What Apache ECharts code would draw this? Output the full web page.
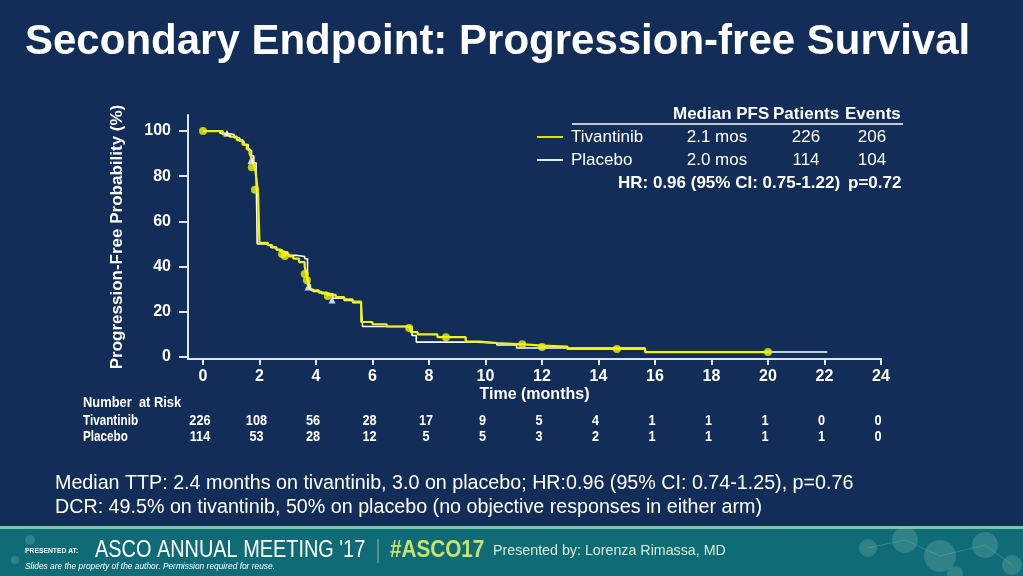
<!DOCTYPE html>
<html><head><meta charset="utf-8">
<script src="https://cdn.jsdelivr.net/npm/echarts@6/dist/echarts.min.js"></script>
<style>html,body{margin:0;padding:0;background:#122d57}#c{width:1023px;height:576px}</style>
</head><body><div id="c"></div>
<script>
// ---- data ----
const tivantinibCurve = [[0,100],[0.5,100],[0.7,98.5],[0.95,97.5],[1.2,96],[1.4,94],[1.55,92],[1.65,90],[1.72,88],[1.78,86],[1.85,83],[1.9,78],[1.95,72],[2.0,50.5],[2.3,49.5],[2.45,48.5],[2.6,47.5],[2.75,46.5],[2.9,45.5],[3.05,44.5],[3.2,43.5],[3.4,42],[3.6,40],[3.65,37],[3.72,34],[3.78,31],[3.85,29.5],[4.1,28.5],[4.4,27.5],[4.7,26.5],[5.0,25.5],[5.3,24.5],[5.6,15.5],[6.0,14.5],[6.5,13.5],[7.2,12.8],[7.35,11],[7.6,10],[8.3,8.8],[9.3,6.8],[9.8,6.2],[10.4,5.5],[11.5,5.0],[12.0,4.6],[12.9,3.6],[15.65,2.2],[20.0,2.2]];
const placeboCurve = [[0,100],[0.4,100],[0.6,99],[0.85,98.5],[1.1,97],[1.3,95.5],[1.45,94],[1.6,91.5],[1.72,89],[1.8,86],[1.88,82],[1.92,50],[2.2,49.5],[2.4,48.5],[2.6,47.5],[2.8,46.5],[3.0,45],[3.3,44.5],[3.6,43.5],[3.7,32],[3.8,30],[3.9,29],[4.2,28],[4.6,26],[5.0,25],[5.3,24],[5.6,23],[5.65,13.5],[7.3,13],[7.4,9.5],[7.55,6.6],[9.7,6.2],[10.4,5.3],[11.1,4.0],[15.65,2.2],[22.1,2.2]];
const tivantinibCensored = [[0,100],[1.73,84],[1.84,74],[2.8,45.6],[2.9,44.7],[3.6,36.7],[3.68,34],[4.42,27],[7.3,12.8],[8.6,8.8],[11.3,5.7],[12.0,4.4],[14.65,3.5],[20.0,2.2]];
const placeboCensored = [[0.85,99],[1.7,87],[3.72,31],[4.57,25.2]];
const xTicks = [0,2,4,6,8,10,12,14,16,18,20,22,24];
const yTicks = [0,20,40,60,80,100];
const riskTimes = [0,2,4,6,8,10,12,14,16,18,20,22,24];
const riskTivantinib = [226,108,56,28,17,9,5,4,1,1,1,0,0];
const riskPlacebo = [114,53,28,12,5,5,3,2,1,1,1,1,0];
const armNames = ['Tivantinib','Placebo'];
const medianPFS = ['2.1 mos','2.0 mos'];
const patients = ['226','114'];
const events = ['206','104'];

const YEL = '#f2f20c', WHT = '#ffffff', AX = '#dde5ee';
const FF = '"Liberation Sans", Arial, sans-serif';

const chart = echarts.init(document.getElementById('c'), null, {renderer:'canvas'});
const option = {
  backgroundColor: '#122d57',
  animation: false,
  grid: {left:188, right:142, top:115, bottom:217},
  xAxis: {
    type:'value', min:-0.53, max:24,
    axisLine:{show:true, onZero:false, lineStyle:{color:AX, width:2}},
    axisTick:{show:true, customValues:xTicks, length:6, lineStyle:{color:AX, width:2}},
    axisLabel:{customValues:xTicks, color:'#ffffff', fontWeight:'bold', fontSize:16, fontFamily:FF, margin:10},
    splitLine:{show:false},
    name:'Time (months)', nameLocation:'middle', nameGap:28,
    nameTextStyle:{color:'#ffffff', fontWeight:'bold', fontSize:16, fontFamily:FF}
  },
  yAxis: {
    type:'value', min:-0.88, max:107.1,
    axisLine:{show:true, onZero:false, lineStyle:{color:AX, width:2}},
    axisTick:{show:true, customValues:yTicks, length:9, lineStyle:{color:AX, width:2}},
    axisLabel:{customValues:yTicks, color:'#ffffff', fontWeight:'bold', fontSize:16, fontFamily:FF, margin:17},
    splitLine:{show:false},
    name:'Progression-Free Probability (%)', nameLocation:'middle', nameGap:62, nameRotate:90,
    nameTextStyle:{color:'#ffffff', fontWeight:'bold', fontSize:17, fontFamily:FF}
  },
  series: [
    {type:'line', step:'end', data:placeboCurve, showSymbol:false, symbol:'none', lineStyle:{color:WHT, width:1.6}, z:2},
    {type:'line', step:'end', data:tivantinibCurve, showSymbol:false, symbol:'none', lineStyle:{color:YEL, width:2.2}, z:3},
    {type:'scatter', data:placeboCensored, symbol:'triangle', symbolSize:7, itemStyle:{color:WHT}, z:4},
    {type:'scatter', data:tivantinibCensored, symbol:'circle', symbolSize:8, itemStyle:{color:YEL}, z:5}
  ]
};
chart.setOption(option);

// ---- graphics ----
const g = [];
function txt(x, y, text, font, fill, opts) {
  const o = {type:'text', x:x, y:y, style:Object.assign({text:text, fill:fill||'#fff', font:font, verticalAlign:'middle'}, (opts&&opts.style)||{}), z:(opts&&opts.z)||5};
  if (opts && opts.scaleX) o.scaleX = opts.scaleX;
  g.push(o);
}
// title
txt(25, 42, 'Secondary Endpoint: Progression-free Survival', 'bold 42px '+FF, '#fff', {scaleX:1.0});
// legend table
const hdrY = 114;
txt(673, hdrY, 'Median PFS', 'bold 17px '+FF);
txt(773, hdrY, 'Patients', 'bold 17px '+FF);
txt(845, hdrY, 'Events', 'bold 17px '+FF);
g.push({type:'line', shape:{x1:572, y1:124, x2:903, y2:124}, style:{stroke:'#fff', lineWidth:1.5}});
const rowY = [137,160];
const rowCol = [YEL, WHT];
for (let i=0;i<2;i++){
  g.push({type:'line', shape:{x1:537, y1:rowY[i], x2:563, y2:rowY[i]}, style:{stroke:rowCol[i], lineWidth:1.8}});
  txt(571, rowY[i], armNames[i], '17px '+FF);
  txt(717, rowY[i], medianPFS[i], '17px '+FF, '#fff', {style:{align:'center'}});
  txt(806, rowY[i], patients[i], '17px '+FF, '#fff', {style:{align:'center'}});
  txt(872, rowY[i], events[i], '17px '+FF, '#fff', {style:{align:'center'}});
}
txt(618, 183, 'HR: 0.96 (95% CI: 0.75-1.22)', 'bold 17px '+FF);
txt(848, 183, 'p=0.72', 'bold 17px '+FF);

// number at risk
txt(83, 403, 'Number  at Risk', 'bold 15px '+FF, '#fff', {scaleX:0.86});
txt(83, 421, armNames[0], 'bold 15px '+FF, '#fff', {scaleX:0.78});
txt(83, 437, armNames[1], 'bold 15px '+FF, '#fff', {scaleX:0.78});
for (let i=0;i<riskTimes.length;i++){
  const px = chart.convertToPixel({xAxisIndex:0}, riskTimes[i]) - 3;
  txt(px, 421, String(riskTivantinib[i]), 'bold 15.5px '+FF, '#fff', {scaleX:0.82, style:{align:'center'}});
  txt(px, 437, String(riskPlacebo[i]), 'bold 15.5px '+FF, '#fff', {scaleX:0.82, style:{align:'center'}});
}
// notes
txt(55, 484, 'Median TTP: 2.4 months on tivantinib, 3.0 on placebo; HR:0.96 (95% CI: 0.74-1.25), p=0.76', '19.7px '+FF);
txt(55, 508, 'DCR: 49.5% on tivantinib, 50% on placebo (no objective responses in either arm)', '19.7px '+FF);

// footer
g.push({type:'rect', shape:{x:0, y:526, width:1023, height:50}, style:{fill:'#0f6c77'}, z:-1});
g.push({type:'rect', shape:{x:0, y:526, width:1023, height:3}, style:{fill:'#7cc2a6'}, z:0});
const circles = [[868,548,9],[905,540,13],[940,556,16],[985,545,13],[1012,565,10],[955,574,8],[30,540,5],[15,560,4]];
circles.forEach(c=>g.push({type:'circle', shape:{cx:c[0], cy:c[1], r:c[2]}, style:{fill:'rgba(160,210,200,0.22)'}, z:0}));
g.push({type:'polyline', shape:{points:[[868,548],[905,540],[940,556],[985,545],[1012,565]]}, style:{stroke:'rgba(160,210,200,0.25)', lineWidth:1, fill:null}, z:0});
txt(25, 551, 'PRESENTED AT:', 'bold 7.5px '+FF, '#fff', {scaleX:0.9});
txt(95, 551, "ASCO ANNUAL MEETING '17", '23px '+FF, '#fff', {scaleX:0.865});
g.push({type:'line', shape:{x1:378, y1:539, x2:378, y2:563}, style:{stroke:'rgba(220,240,235,0.6)', lineWidth:1}, z:2});
txt(390, 551, '#ASCO17', 'bold 23px '+FF, '#c8e26a', {scaleX:0.9});
txt(493, 551, 'Presented by: Lorenza Rimassa, MD', '15px '+FF, '#d8ecd0', {scaleX:0.95});
txt(25, 566, 'Slides are the property of the author. Permission required for reuse.', 'italic 9px '+FF, '#fff', {scaleX:0.93});

chart.setOption({graphic: g});
</script></body></html>
